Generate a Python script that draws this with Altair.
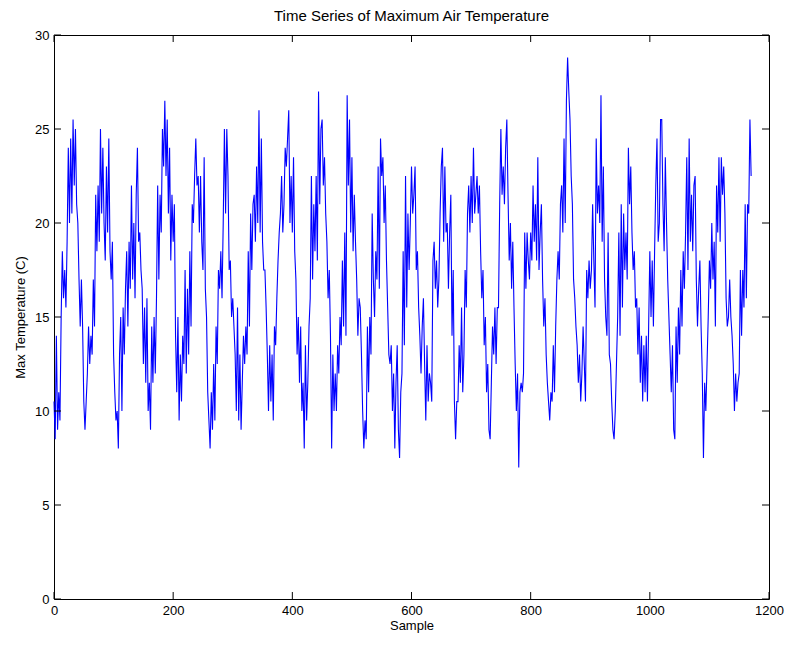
import altair as alt
import pandas as pd

# Max temperature readings, every second sample
seg01 = [10.5, 8.5, 14.0, 9.0, 11.0, 9.5, 15.0, 18.5, 16.0, 17.5, 15.5, 19.0, 24.0, 20.0,
         24.5, 20.5, 25.5, 22.0, 25.0, 21.0, 20.0, 17.0, 14.5, 17.0, 14.5, 10.5, 9.0, 10.5,
         12.0, 14.5, 12.5, 14.0, 13.0, 17.0, 14.5, 21.5, 18.5, 22.0, 19.0, 25.0, 20.5, 24.0,
         20.0, 18.0, 23.0, 19.5, 24.5, 18.5, 17.0, 19.0, 13.0, 11.0, 9.5, 10.0, 8.0, 13.0]
seg02 = [15.0, 10.0, 15.5, 13.0, 16.5, 18.5, 14.5, 19.0, 16.5, 22.0, 17.0, 20.0, 16.0, 21.5,
         24.0, 19.0, 19.5, 17.5, 16.5, 12.5, 15.5, 11.5, 16.0, 10.0, 11.5, 9.0, 14.5, 11.5,
         15.0, 12.0, 16.0, 22.0, 17.0, 21.5, 19.5, 25.0, 23.0, 26.5, 22.5, 25.5, 20.5, 24.0,
         18.0, 21.5, 19.0, 21.0, 14.0, 11.0, 15.0, 9.5, 13.0, 10.5, 14.0, 12.5, 17.5, 12.0]
seg03 = [16.5, 13.0, 18.5, 14.5, 21.0, 20.0, 22.5, 24.5, 22.0, 22.5, 19.5, 22.5, 19.0, 17.5,
         23.5, 16.5, 15.0, 11.0, 9.5, 8.0, 11.0, 9.0, 12.5, 9.5, 14.5, 12.5, 17.5, 16.5,
         18.5, 16.0, 20.0, 25.0, 20.5, 25.0, 22.5, 17.5, 18.0, 15.0, 16.0, 14.5, 13.0, 10.0,
         15.5, 9.5, 13.0, 9.0, 11.5, 14.0, 12.5, 14.5, 13.0, 18.5, 14.5, 20.5, 17.5, 21.0]
seg04 = [21.5, 19.0, 23.0, 20.0, 26.0, 19.5, 24.5, 19.0, 17.5, 17.5, 15.5, 13.0, 10.0, 13.5,
         10.5, 13.0, 9.5, 14.5, 13.5, 16.0, 18.0, 19.5, 20.5, 22.5, 19.5, 21.0, 24.0, 23.0,
         24.5, 26.0, 20.0, 22.5, 19.5, 23.5, 18.5, 17.0, 13.0, 15.0, 11.5, 14.5, 10.0, 11.5,
         8.0, 13.5, 9.5, 11.5, 14.5, 16.0, 22.5, 17.0, 21.0, 18.5, 22.5, 18.0, 27.0, 21.0, 25.0]
seg05 = [25.5, 22.0, 23.5, 20.5, 19.0, 16.0, 17.5, 14.0, 8.0, 13.0, 10.0, 12.0, 10.0, 13.5,
         12.0, 15.0, 13.5, 18.0, 14.5, 19.5, 14.0, 26.8, 22.0, 25.5, 19.5, 23.5, 18.5, 21.5,
         19.0, 17.0, 14.0, 16.0, 15.5, 13.0, 10.0, 8.0, 9.5, 8.5, 14.5, 11.0, 15.0, 13.0,
         20.5, 17.0, 15.0, 18.5, 17.0, 23.0, 16.5, 24.5, 22.5, 23.5, 20.0, 22.0, 18.0, 15.5, 13.0]
seg06 = [12.5, 13.5, 10.0, 12.0, 8.0, 11.5, 13.5, 9.0, 7.5, 11.0, 12.0, 18.5, 13.5, 22.5,
         15.5, 20.5, 17.5, 20.0, 23.0, 20.5, 21.5, 23.0, 17.5, 18.5, 15.5, 14.0, 12.0, 14.5,
         16.0, 12.5, 9.5, 13.5, 10.5, 12.0, 11.5, 10.5, 18.0, 19.0, 16.5, 18.0, 15.5, 17.0,
         20.5, 23.0, 24.0, 19.0, 23.0, 19.5, 20.0, 16.5, 19.5, 21.5, 14.0, 17.5, 10.5, 8.5, 10.5]
seg07 = [10.5, 13.5, 11.5, 15.5, 11.0, 13.0, 17.5, 15.5, 20.5, 22.0, 19.5, 22.5, 20.0, 24.0,
         20.5, 21.5, 22.5, 20.5, 22.0, 18.5, 16.0, 17.5, 13.5, 15.0, 11.0, 12.5, 9.0, 8.5,
         11.5, 14.5, 13.0, 15.5, 12.5, 15.5, 15.5, 21.0, 25.0, 21.5, 23.0, 21.0, 24.0, 25.5,
         21.5, 18.0, 20.0, 16.5, 19.0, 15.5, 12.5, 10.0, 12.0, 7.0, 11.0, 11.5, 11.0, 12.0, 19.5]
seg08 = [16.5, 19.5, 18.0, 17.0, 19.5, 18.0, 22.0, 19.0, 21.0, 18.0, 23.5, 17.5, 19.5, 21.0,
         17.0, 14.5, 16.0, 13.0, 11.5, 10.5, 9.5, 11.0, 10.5, 13.5, 11.0, 14.5, 17.0, 18.5,
         17.0, 21.0, 22.0, 19.5, 24.5, 20.0, 26.5, 28.8, 27.0, 25.5, 22.5, 21.0, 17.0, 16.0,
         14.5, 13.5, 11.5, 13.0, 10.5, 12.0, 14.5, 12.5, 10.5, 17.5, 16.0, 18.0, 16.5, 17.5, 21.0]
seg09 = [18.0, 15.5, 24.5, 20.5, 22.0, 20.0, 26.8, 19.0, 23.0, 17.0, 15.0, 14.0, 19.5, 13.0,
         12.5, 10.5, 9.0, 8.5, 10.0, 12.5, 15.0, 19.5, 14.0, 21.0, 15.5, 20.5, 17.5, 19.5,
         17.0, 24.0, 21.0, 23.0, 19.5, 17.5, 18.5, 15.5, 16.0, 13.0, 15.5, 11.5, 14.0, 10.5,
         13.5, 11.0, 14.0, 10.5, 14.5, 18.5, 15.0, 18.0, 14.5, 18.5, 22.0, 24.5, 19.0, 20.0, 25.5]
seg10 = [25.5, 21.0, 18.5, 23.5, 20.0, 17.0, 15.0, 13.0, 11.0, 13.5, 9.0, 8.5, 14.5, 11.5,
         15.5, 13.0, 17.5, 14.5, 18.5, 16.5, 19.5, 23.5, 17.5, 24.5, 19.0, 21.5, 18.5, 22.0,
         22.5, 17.0, 14.5, 16.5, 18.0, 14.5, 12.0, 7.5, 11.5, 10.0, 12.5, 15.0, 18.0, 16.5,
         20.0, 17.0, 19.0, 14.5, 22.0, 19.5]
seg11 = [23.5, 19.0, 23.5, 21.5, 23.0, 20.5, 16.0, 14.5, 15.0, 17.0, 15.0, 14.0, 12.5, 10.0,
         12.0, 10.5, 11.5, 12.0, 17.5, 14.0, 17.5, 15.5, 21.0, 16.0, 21.0, 20.5, 25.5, 22.5]

temps = seg01 + seg02 + seg03 + seg04 + seg05 + seg06 + seg07 + seg08 + seg09 + seg10 + seg11
samples = list(range(0, 2 * len(temps), 2))
df = pd.DataFrame({"sample": samples, "temp": temps})

x_ticks = [0, 200, 400, 600, 800, 1000, 1200]
y_ticks = [0, 5, 10, 15, 20, 25, 30]

W, H = 715, 564
TL = 7
FONT = "Liberation Sans"

xs = alt.Scale(domain=[0, 1200], nice=False, zero=False)
ys = alt.Scale(domain=[0, 30], nice=False, zero=False)

x_axis = alt.Axis(values=x_ticks, title="Sample", ticks=False, domain=False, grid=False,
                  labelPadding=5, titlePadding=2, format="d", labelFlush=False)
y_axis = alt.Axis(values=y_ticks, title="Max Temperature (C)", ticks=False, domain=False,
                  grid=False, labelPadding=5, titlePadding=7, format="d", labelFlush=False)

line = alt.Chart(df).mark_line(color="#0000ff", strokeWidth=1.1).encode(
    x=alt.X("sample:Q", scale=xs, axis=x_axis),
    y=alt.Y("temp:Q", scale=ys, axis=y_axis),
)

xt = pd.DataFrame({"sample": x_ticks})
yt = pd.DataFrame({"temp": y_ticks})

xb = alt.Chart(xt).mark_rule(color="black", strokeWidth=1).encode(
    x=alt.X("sample:Q", scale=xs, axis=x_axis), y=alt.value(H), y2=alt.value(H - TL))
xtp = alt.Chart(xt).mark_rule(color="black", strokeWidth=1).encode(
    x=alt.X("sample:Q", scale=xs, axis=x_axis), y=alt.value(0), y2=alt.value(TL))
yl = alt.Chart(yt).mark_rule(color="black", strokeWidth=1).encode(
    y=alt.Y("temp:Q", scale=ys, axis=y_axis), x=alt.value(0), x2=alt.value(TL))
yr = alt.Chart(yt).mark_rule(color="black", strokeWidth=1).encode(
    y=alt.Y("temp:Q", scale=ys, axis=y_axis), x=alt.value(W), x2=alt.value(W - TL))

chart = alt.layer(line, xb, xtp, yl, yr).properties(
    width=W, height=H,
    background="white",
    title=alt.TitleParams("Time Series of Maximum Air Temperature", fontSize=15,
                          fontWeight="normal", font=FONT, color="black", offset=5),
    autosize=alt.AutoSizeParams(type="none"),
    padding={"left": 54, "top": 35, "right": 21, "bottom": 47},
).configure_view(stroke="black", strokeWidth=1).configure_axis(
    labelFont=FONT, labelFontSize=13, labelColor="black",
    titleFont=FONT, titleFontSize=13, titleFontWeight="normal", titleColor="black",
)

chart.save("out.html", embed_options={"renderer": "svg", "actions": False})
